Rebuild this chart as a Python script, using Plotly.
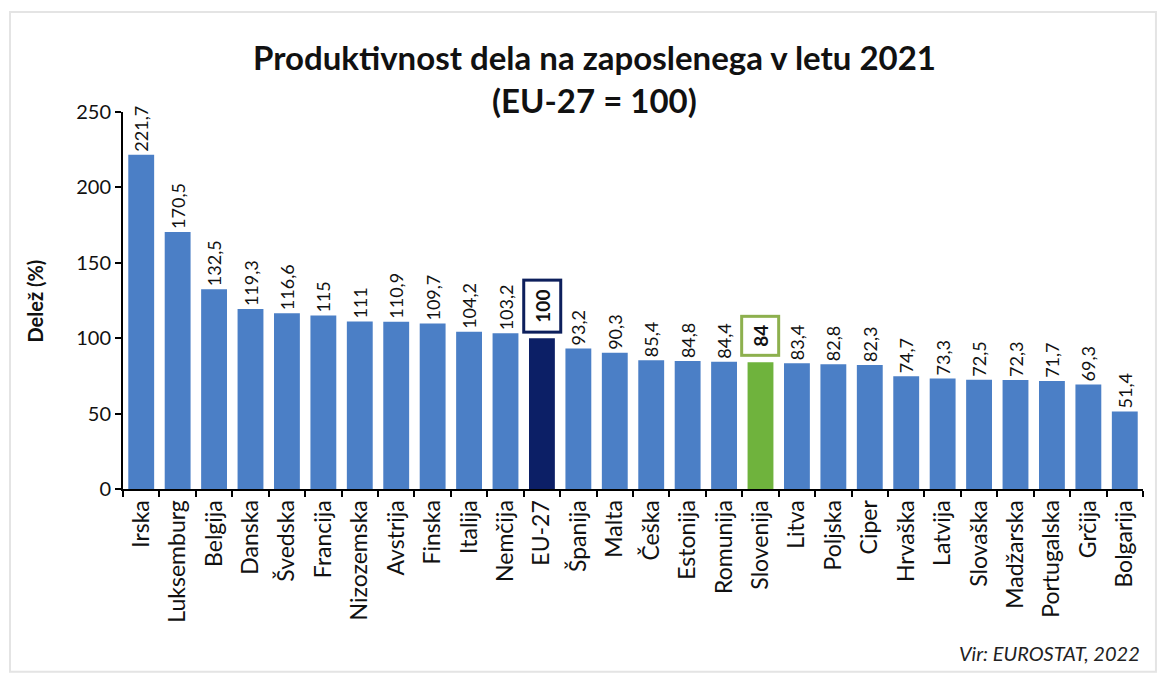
import plotly.graph_objects as go

countries = ["Irska", "Luksemburg", "Belgija", "Danska", "Švedska", "Francija", "Nizozemska",
             "Avstrija", "Finska", "Italija", "Nemčija", "EU-27", "Španija", "Malta", "Češka",
             "Estonija", "Romunija", "Slovenija", "Litva", "Poljska", "Ciper", "Hrvaška",
             "Latvija", "Slovaška", "Madžarska", "Portugalska", "Grčija", "Bolgarija"]
values = [221.7, 170.5, 132.5, 119.3, 116.6, 115, 111, 110.9, 109.7, 104.2, 103.2, 100,
          93.2, 90.3, 85.4, 84.8, 84.4, 84, 83.4, 82.8, 82.3, 74.7, 73.3, 72.5, 72.3,
          71.7, 69.3, 51.4]
y_ticks = [0, 50, 100, 150, 200, 250]
highlight = {"EU-27": ("#0c1f66", "#0d1f5c"), "Slovenija": ("#6fb33d", "#8db04e")}

FONT = "Lato, 'Open Sans', sans-serif"
BLUE = "#4b7fc6"
INK = "#111111"


def fmt(v):
    s = f"{v:.1f}".replace(".", ",")
    return s[:-2] if s.endswith(",0") else s


colors = [highlight[c][0] if c in highlight else BLUE for c in countries]
texts = ["" if c in highlight else fmt(v) for c, v in zip(countries, values)]

fig = go.Figure()
fig.add_trace(go.Bar(
    x=countries, y=values, marker=dict(color=colors, line=dict(width=0)),
    text=texts, textposition="outside", textangle=-90, constraintext="none",
    textfont=dict(family=FONT, size=18, color=INK),
    cliponaxis=False, hoverinfo="skip",
))

annotations = []
for c, v in zip(countries, values):
    if c in highlight:
        label = fmt(v)
        annotations.append(dict(
            x=c, y=v, xref="x", yref="y", text=f"<b>{label}</b>", textangle=-90,
            showarrow=False, yanchor="bottom", xanchor="center", yshift=5,
            width=13 * len(label) + 8, height=32, align="center", valign="middle",
            font=dict(family=FONT, size=19, color=INK),
            bordercolor=highlight[c][1], borderwidth=3, borderpad=1, bgcolor="white",
        ))

annotations += [
    dict(x=0.462, y=1.146, xref="paper", yref="paper", xanchor="center", yanchor="middle",
         text="<b>Produktivnost dela na zaposlenega v letu 2021</b>", showarrow=False,
         font=dict(family=FONT, size=33, color=INK)),
    dict(x=0.462, y=1.032, xref="paper", yref="paper", xanchor="center", yanchor="middle",
         text="<b>(EU-27 = 100)</b>", showarrow=False,
         font=dict(family=FONT, size=33, color=INK)),
    dict(x=0.999, y=-0.435, xref="paper", yref="paper", xanchor="right", yanchor="middle",
         text="<i>Vir: EUROSTAT, 2022</i>", showarrow=False,
         font=dict(family=FONT, size=20, color="#222222")),
    dict(x=-0.0863, y=0.5, xref="paper", yref="paper", xanchor="center", yanchor="middle",
         text="<b>Delež (%)</b>", textangle=-90, showarrow=False,
         font=dict(family=FONT, size=20, color=INK)),
]

fig.update_layout(
    width=1172, height=679,
    margin=dict(l=115, r=37, t=104, b=198),
    paper_bgcolor="white", plot_bgcolor="white",
    bargap=0.29, showlegend=False,
    annotations=annotations,
    font=dict(family=FONT, color=INK),
    shapes=[dict(type="rect", xref="paper", yref="paper", x0=-0.1108, x1=1.0127,
                 y0=-0.485, y1=1.265, line=dict(color="#e4e4e4", width=2), layer="below")],
    xaxis=dict(
        tickangle=-90, tickfont=dict(family=FONT, size=23, color=INK),
        showline=True, linecolor="black", linewidth=2,
        ticks="outside", tickson="boundaries", ticklen=6, tickcolor="black", tickwidth=2,
        showgrid=False, automargin=False,
    ),
    yaxis=dict(
        range=[0, 250], tickvals=y_ticks, ticktext=[str(t) for t in y_ticks],
        tickfont=dict(family=FONT, size=20, color=INK),
        showline=True, linecolor="black", linewidth=2,
        ticks="outside", ticklen=6, tickcolor="black", tickwidth=2,
        showgrid=False, zeroline=False, automargin=False,
    ),
)

fig.write_html("out.html")
